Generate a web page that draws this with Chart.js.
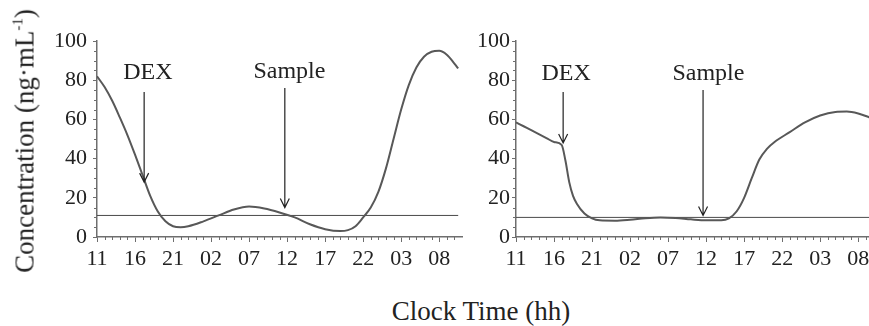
<!DOCTYPE html>
<html>
<head>
<meta charset="utf-8">
<script src="https://cdn.jsdelivr.net/npm/chart.js@4"></script>
<style>
  html, body { margin: 0; padding: 0; background: #fff; overflow: hidden; }
  body { width: 869px; height: 326px; position: relative; font-family: 'Liberation Serif', 'Times New Roman', serif; color: #222; }
  .wrap { position: absolute; top: 0; height: 280px; }
  #leftWrap { left: 0; width: 480px; }
  #rightWrap { left: 430px; width: 461px; }
  #yTitle { position: absolute; left: 25px; top: 141px; transform: translate(-50%, -50%) rotate(-90deg);
            white-space: nowrap; font-size: 27px; line-height: 1; }
  #yTitle sup { font-size: 15px; vertical-align: 11px; line-height: 0; }
  #xTitle { position: absolute; left: 481px; top: 298px; transform: translateX(-50%);
            white-space: nowrap; font-size: 27px; line-height: 1; }
</style>
</head>
<body>
<div class="wrap" id="leftWrap"><canvas id="leftChart" width="480" height="280"></canvas></div>
<div class="wrap" id="rightWrap"><canvas id="rightChart" width="461" height="280"></canvas></div>
<div id="yTitle">Concentration (ng·mL<sup>-1</sup>)</div>
<div id="xTitle">Clock Time (hh)</div>
<script>
// clock labels, one every 5 h starting at 11:00
var xTickLabels = ['11', '16', '21', '02', '07', '12', '17', '22', '03', '08'];

// hours elapsed since 11:00 and concentration (ng/mL)
var leftHours = [0, 1, 2, 3, 4, 5, 6, 7, 8, 9, 10, 11, 12, 14, 16, 18, 20, 22, 24, 26, 28, 30, 32, 33, 34, 35, 36, 37, 38, 39, 40, 41, 42, 43, 44, 45, 46, 47, 47.5];
var leftConc  = [82, 76.5, 69.5, 61, 52, 42, 31.5, 21, 13, 8, 5.5, 5, 5.5, 8, 11, 14, 15.5, 14.5, 12.5, 10, 6.5, 4, 3, 3.5, 5.5, 10, 15, 23, 35, 50, 65, 77.5, 86.5, 92, 94.5, 95, 93, 88.5, 86];
var leftCut = 11;

var rightHours = [0, 1, 2, 3, 4, 5, 6, 6.5, 7, 7.5, 8, 9, 10, 11, 13, 15, 17, 19, 21, 23, 25, 27, 28, 29, 30, 31, 32, 33, 34, 36, 38, 40, 42, 43.5, 45, 46.5];
var rightConc  = [58.5, 56.5, 54.5, 52.5, 50.5, 48.5, 47, 39, 28, 21, 17, 12, 9.5, 8.5, 8.3, 8.8, 9.6, 10, 9.7, 9, 8.5, 8.5, 9.5, 13, 20, 30, 39.5, 45, 48.5, 53.5, 58.5, 62, 63.8, 64, 63, 61];
var rightCut = 10;

// arrow notes: label, arrow hour, arrow start / end value, label hour / baseline value
var leftNotes = [
  { text: 'DEX', at: 6.2, from: 74, to: 28, textAt: 6.7, textY: 80.5 },
  { text: 'Sample', at: 24.7, from: 76, to: 15, textAt: 25.3, textY: 81 }
];
var rightNotes = [
  { text: 'DEX', at: 6.2, from: 74, to: 48, textAt: 6.6, textY: 80 },
  { text: 'Sample', at: 24.6, from: 75, to: 11, textAt: 25.3, textY: 80 }
];

var serif = "'Liberation Serif', 'Times New Roman', serif";
var axisColor = '#6e6e6e';

// minor ticks plus the arrows with their labels
var notePlugin = {
  id: 'notes',
  afterDatasetsDraw: function(chart, args, opts) {
    var ctx = chart.ctx, xs = chart.scales.x, ys = chart.scales.y;
    var area = chart.chartArea;
    ctx.save();
    ctx.strokeStyle = axisColor;
    ctx.lineWidth = 1;
    ctx.beginPath();
    for (var h = 1; h < xs.max; h++) {
      if (h % 5 === 0) continue;
      var px = Math.round(xs.getPixelForValue(h)) + 0.5;
      ctx.moveTo(px, area.bottom);
      ctx.lineTo(px, area.bottom + 3);
    }
    for (var v = 5; v < 100; v += 5) {
      if (v % 20 === 0) continue;
      var py = Math.round(ys.getPixelForValue(v)) + 0.5;
      ctx.moveTo(area.left, py);
      ctx.lineTo(area.left - 3, py);
    }
    ctx.stroke();

    ctx.strokeStyle = '#222';
    ctx.fillStyle = '#222';
    ctx.lineWidth = 1.2;
    ctx.font = '24px ' + serif;
    ctx.textAlign = 'center';
    ctx.textBaseline = 'alphabetic';
    opts.notes.forEach(function(n) {
      var x = xs.getPixelForValue(n.at);
      var y0 = ys.getPixelForValue(n.from);
      var y1 = ys.getPixelForValue(n.to);
      ctx.beginPath();
      ctx.moveTo(x, y0);
      ctx.lineTo(x, y1);
      ctx.moveTo(x - 4.5, y1 - 9);
      ctx.lineTo(x, y1);
      ctx.lineTo(x + 4.5, y1 - 9);
      ctx.stroke();
      ctx.fillText(n.text, xs.getPixelForValue(n.textAt), ys.getPixelForValue(n.textY));
    });
    ctx.restore();
  }
};

function makeChart(id, hours, conc, cut, cutEnd, notes, yWidth, padRight, yPad) {
  var ctx = document.getElementById(id).getContext('2d');
  return new Chart(ctx, {
    type: 'line',
    data: {
      datasets: [
        {
          data: hours.map(function(h, i) { return { x: h, y: conc[i] }; }),
          borderColor: '#585858',
          borderWidth: 2,
          pointRadius: 0,
          cubicInterpolationMode: 'monotone',
          fill: false
        },
        {
          data: [{ x: 0, y: cut }, { x: cutEnd, y: cut }],
          borderColor: '#4a4a4a',
          borderWidth: 1,
          pointRadius: 0,
          fill: false
        }
      ]
    },
    options: {
      responsive: false,
      animation: false,
      events: [],
      layout: { padding: { top: 41, right: padRight, bottom: 0, left: 0 } },
      plugins: {
        legend: { display: false },
        tooltip: { enabled: false },
        notes: { notes: notes }
      },
      scales: {
        x: {
          type: 'linear',
          min: 0,
          max: 48,
          afterBuildTicks: function(scale) {
            scale.ticks = xTickLabels.map(function(_, i) { return { value: i * 5 }; });
          },
          afterFit: function(scale) { scale.height = 43; },
          border: { display: true, color: axisColor, width: 1.5 },
          grid: { display: true, drawOnChartArea: false, color: axisColor, tickLength: 5 },
          ticks: {
            autoSkip: false,
            maxRotation: 0,
            padding: 4,
            color: '#222',
            font: { family: serif, size: 22 },
            callback: function(value) { return xTickLabels[Math.round(value / 5)]; }
          }
        },
        y: {
          min: 0,
          max: 100,
          afterFit: function(scale) { scale.width = yWidth; },
          border: { display: true, color: axisColor, width: 1.5 },
          grid: { display: true, drawOnChartArea: false, color: axisColor, tickLength: 4 },
          ticks: {
            stepSize: 20,
            padding: yPad,
            color: '#222',
            font: { family: serif, size: 22 }
          }
        }
      }
    },
    plugins: [notePlugin]
  });
}

makeChart('leftChart', leftHours, leftConc, leftCut, leftHours[leftHours.length - 1], leftNotes, 97, 18, 6);
makeChart('rightChart', rightHours, rightConc, rightCut, 48, rightNotes, 86, 10, 2);
</script>
</body>
</html>
